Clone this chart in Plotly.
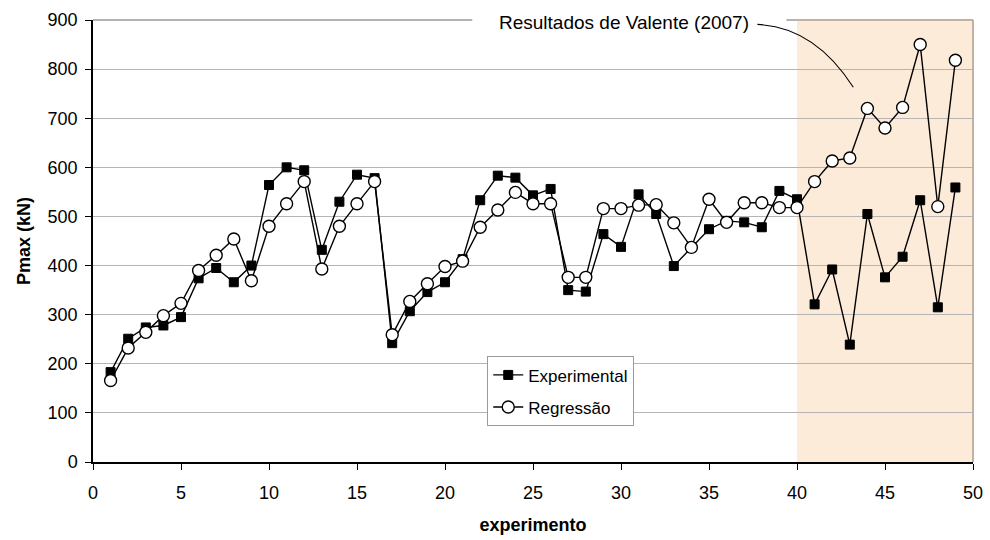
import plotly.graph_objects as go

# Experiment number and maximum load (kN)
experimento = list(range(1, 50))
experimental = [183, 251, 274, 278, 295, 374, 395, 366, 400, 564,
                600, 594, 432, 530, 585, 578, 242, 307, 346, 366,
                413, 533, 583, 579, 543, 556, 350, 347, 464, 438,
                545, 505, 399, 437, 474, 491, 488, 478, 552, 535,
                321, 392, 239, 505, 376, 418, 533, 315, 559]
regressao = [166, 232, 264, 298, 323, 390, 421, 454, 369, 480,
             526, 571, 393, 480, 526, 571, 259, 327, 363, 398,
             409, 478, 513, 549, 526, 526, 376, 376, 516, 516,
             523, 524, 487, 437, 535, 488, 528, 528, 518, 518,
             571, 613, 619, 720, 680, 722, 850, 520, 818]

x_ticks = list(range(0, 51, 5))
y_ticks = list(range(0, 901, 100))
valente_start, valente_end = 40, 50

FONT = "Liberation Sans, Arial, sans-serif"

fig = go.Figure()

fig.add_trace(go.Scatter(
    x=experimento, y=experimental, name="Experimental",
    mode="lines+markers", legendgroup="a",
    line=dict(color="black", width=1.4),
    marker=dict(symbol="square", size=9, color="black",
                line=dict(color="black", width=1)),
))
fig.add_trace(go.Scatter(
    x=experimento, y=regressao, name="Regressão",
    mode="lines+markers", legendgroup="b",
    line=dict(color="black", width=1.4),
    marker=dict(symbol="circle", size=12, color="white",
                line=dict(color="black", width=1.4)),
))

# Shaded band marking the results of Valente (2007)
fig.add_shape(type="rect", xref="x", yref="y",
              x0=valente_start, x1=valente_end, y0=0, y1=900,
              fillcolor="rgba(248,180,120,0.27)", line=dict(width=0),
              layer="below")

# Grey frame on the top and right sides of the plot area
fig.add_shape(type="line", xref="paper", yref="paper",
              x0=0, x1=1, y0=1, y1=1,
              line=dict(color="#9a9a9a", width=1.5), layer="below")
fig.add_shape(type="line", xref="paper", yref="paper",
              x0=1, x1=1, y0=0, y1=1,
              line=dict(color="#9a9a9a", width=1.5), layer="below")

# White strip behind the label, interrupting the top line
fig.add_shape(type="rect", xref="paper", yref="paper",
              x0=0.431, x1=0.788, y0=0.97, y1=1.05,
              fillcolor="white", line=dict(width=0), layer="between")

# Curved leader from the label down to the band
fig.add_shape(type="path", xref="x", yref="y",
              path="M 37.75 891 Q 41.0 886 43.2 763",
              line=dict(color="black", width=1.1), layer="above")

fig.add_annotation(
    text="Resultados de Valente (2007)",
    xref="paper", yref="paper", x=0.603, y=0.994,
    xanchor="center", yanchor="middle", showarrow=False,
    font=dict(family=FONT, size=19, color="black"),
)

fig.update_xaxes(
    range=[0, 50], tickvals=x_ticks, ticks="outside", ticklen=6,
    tickcolor="black", tickwidth=1, showline=True, linecolor="black",
    linewidth=1.5, showgrid=False, zeroline=False, ticklabelstandoff=8,
    automargin=False,
    tickfont=dict(family=FONT, size=18, color="black"),
    title=dict(text="<b>experimento</b>", standoff=16,
               font=dict(family=FONT, size=18, color="black")),
)
fig.update_yaxes(
    range=[0, 900], tickvals=y_ticks, ticks="outside", ticklen=6,
    tickcolor="black", tickwidth=1, showline=True, linecolor="black",
    linewidth=1.5, showgrid=True, gridcolor="#b4b4b4", gridwidth=1,
    zeroline=False, ticklabelstandoff=4, automargin=False,
    tickfont=dict(family=FONT, size=18, color="black"),
    title=dict(text="<b>Pmax (kN)</b>", standoff=12,
               font=dict(family=FONT, size=18, color="black")),
)

fig.update_layout(
    width=990, height=540,
    margin=dict(l=93, r=17, t=20, b=78),
    plot_bgcolor="white", paper_bgcolor="white",
    showlegend=True,
    legend=dict(
        x=0.448, y=0.239, xanchor="left", yanchor="top",
        bgcolor="white", bordercolor="#9a9a9a", borderwidth=1,
        font=dict(family=FONT, size=17, color="black"),
        traceorder="grouped", tracegroupgap=7,
    ),
)

fig.write_html("out.html")
